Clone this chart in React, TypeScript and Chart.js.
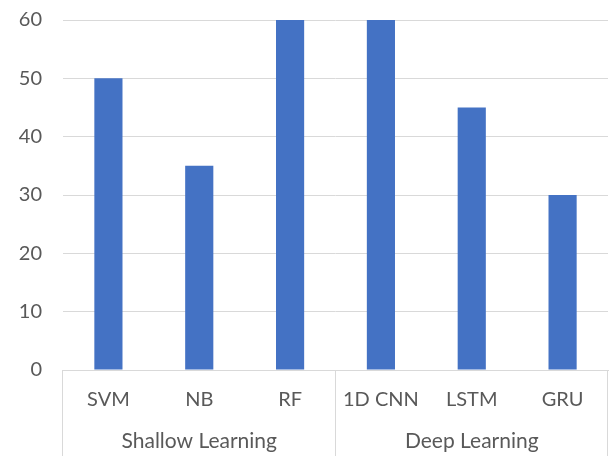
import React, { useEffect, useRef } from "react";
import { Chart, registerables } from "chart.js";

Chart.register(...registerables);

const categories = ["SVM", "NB", "RF", "1D CNN", "LSTM", "GRU"];
const values = [50, 35, 60, 60, 45, 30];
const groups = ["Shallow Learning", "Deep Learning"];
const groupSizes = [3, 3];
const yTicks = [0, 10, 20, 30, 40, 50, 60];

const FONT = "Lato, 'Open Sans', sans-serif";
const TEXT = "#595959";
const LINE = "#d9d9d9";

const groupAxisPlugin = {
  id: "groupAxis",
  afterDraw(chart: any) {
    const { ctx, chartArea, scales } = chart;
    const x = scales.x;
    const bottom = chart.height;
    const top = chartArea.bottom;
    ctx.save();
    ctx.strokeStyle = LINE;
    ctx.lineWidth = 1;
    const half = (x.getPixelForValue(1) - x.getPixelForValue(0)) / 2;
    let idx = 0;
    const edges: number[] = [x.getPixelForValue(0) - half];
    groupSizes.forEach((n) => {
      idx += n;
      edges.push(x.getPixelForValue(idx - 1) + half);
    });
    edges.forEach((px) => {
      const p = Math.round(px) - 0.5;
      ctx.beginPath();
      ctx.moveTo(p, top);
      ctx.lineTo(p, bottom);
      ctx.stroke();
    });
    ctx.fillStyle = TEXT;
    ctx.font = `21px ${FONT}`;
    ctx.textAlign = "center";
    ctx.textBaseline = "middle";
    groups.forEach((g, i) => {
      const cx = (edges[i] + edges[i + 1]) / 2;
      ctx.fillText(g, cx, 441);
    });
    ctx.restore();
  },
};

export default function App() {
  const ref = useRef<HTMLCanvasElement | null>(null);
  useEffect(() => {
    if (!ref.current) return;
    const chart = new Chart(ref.current, {
      type: "bar",
      data: {
        labels: categories,
        datasets: [
          {
            data: values,
            backgroundColor: "#4472C4",
            barPercentage: 0.31,
            categoryPercentage: 1,
          },
        ],
      },
      options: {
        animation: false,
        responsive: false,
        maintainAspectRatio: false,
        layout: { padding: { top: 20, left: 0, right: 1, bottom: 45 } },
        plugins: { legend: { display: false }, tooltip: { enabled: false } },
        scales: {
          x: {
            grid: { display: false, drawTicks: false },
            border: { display: true, color: LINE },
            ticks: { color: TEXT, font: { family: FONT, size: 20 }, padding: 18, maxRotation: 0 },
            afterFit: (axis: any) => {
              axis.height = 41;
              axis.paddingLeft = 0;
              axis.paddingRight = 0;
            },
          },
          y: {
            min: yTicks[0],
            max: yTicks[yTicks.length - 1],
            afterBuildTicks: (axis: any) => {
              axis.ticks = yTicks.map((v) => ({ value: v }));
            },
            afterFit: (axis: any) => {
              axis.width = 63;
              axis.paddingTop = 0;
              axis.paddingBottom = 0;
            },
            grid: { color: LINE, drawTicks: false },
            border: { display: false },
            ticks: { color: TEXT, font: { family: FONT, size: 20 }, padding: 21 },
          },
        },
      },
      plugins: [groupAxisPlugin],
    });
    return () => chart.destroy();
  }, []);
  return (
    <div style={{ position: "fixed", left: 0, top: 0, width: 609, height: 456, background: "#fff" }}>
      <canvas ref={ref} width={609} height={456} />
    </div>
  );
}
